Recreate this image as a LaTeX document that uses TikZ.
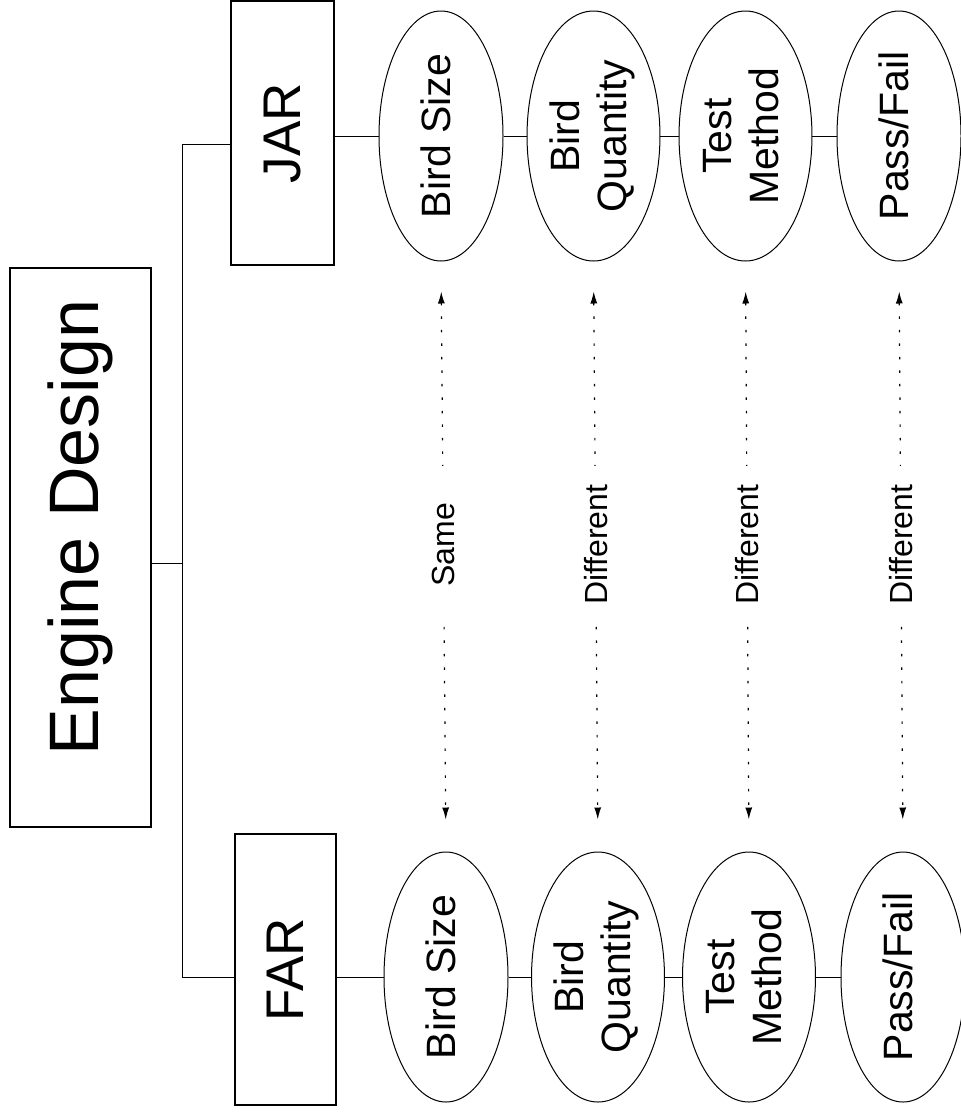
\documentclass[tikz,border=0pt]{standalone}
\usepackage{fontspec}
\setmainfont{Liberation Sans}
\usetikzlibrary{arrows.meta,shapes.geometric}
\newcommand{\rt}[1]{\rotatebox{90}{\begin{tabular}{@{}c@{}}#1\end{tabular}}}
\begin{document}
\begin{tikzpicture}[x=1pt,y=-1pt,
  box/.style={draw,line width=1.2pt,inner sep=0pt},
  oval/.style={draw,ellipse,line width=1pt,minimum width=124pt,minimum height=250pt,inner sep=0pt,font=\fontsize{41}{47}\selectfont},
  link/.style={line width=1pt},
  cmp/.style={line width=1.2pt,dash pattern=on 2.5pt off 11pt,{Latex[length=12pt,width=7pt]}-{Latex[length=12pt,width=7pt]},shorten <=30pt,shorten >=32pt},
  lbl/.style={fill=white,inner sep=0pt,minimum height=157pt,font=\fontsize{32}{37}\selectfont}
]
\useasboundingbox (0,0) rectangle (961,1112);
% title box
\node[box,minimum width=141pt,minimum height=559pt,font=\fontsize{70}{80}\selectfont] (ED) at (80.5,547.5) {\rotatebox{90}{\hspace*{40pt}Engine Design}};
% regulation boxes
\node[box,minimum width=103pt,minimum height=264pt,font=\fontsize{53}{60}\selectfont] (JAR) at (282.5,133) {\rotatebox{90}{JAR}};
\node[box,minimum width=101pt,minimum height=271pt,font=\fontsize{53}{60}\selectfont] (FAR) at (285.5,969.5) {\rotatebox{90}{FAR}};
% JAR ellipses
\node[oval] (J1) at (441,136) {\rt{Bird Size}};
\node[oval] (J2) at (593.5,136) {\rt{Bird\\Quantity}};
\node[oval] (J3) at (745.5,136) {\rt{Test\\Method}};
\node[oval] (J4) at (899,136) {\rt{Pass/Fail}};
% FAR ellipses
\node[oval] (F1) at (446,977) {\rt{Bird Size}};
\node[oval] (F2) at (598,977) {\rt{Bird\\Quantity}};
\node[oval] (F3) at (749,977) {\rt{Test\\Method}};
\node[oval] (F4) at (903,977) {\rt{Pass/Fail}};
% tree connectors
\coordinate (tj) at (182,144);
\coordinate (tm) at (182,563);
\coordinate (tf) at (182,977);
\draw[link] (tj -| JAR.west) -- (tj) -- (tf) -- (tf -| FAR.west);
\draw[link] (tm -| ED.east) -- (tm);
\draw[link] (JAR.east |- J1.west) -- (J1.west);
\draw[link] (J1.east) -- (J2.west);
\draw[link] (J2.east) -- (J3.west);
\draw[link] (J3.east) -- (J4.west);
\draw[link] (FAR.east |- F1.west) -- (F1.west);
\draw[link] (F1.east) -- (F2.west);
\draw[link] (F2.east) -- (F3.west);
\draw[link] (F3.east) -- (F4.west);
% comparison arrows
\draw[cmp] (J1.south) -- node[lbl,pos=0.48] (L1) {\rotatebox{90}{Same}} (F1.north);
\draw[cmp] (J2.south) -- node[lbl,pos=0.48] (L2) {\rotatebox{90}{Different}} (F2.north);
\draw[cmp] (J3.south) -- node[lbl,pos=0.48] (L3) {\rotatebox{90}{Different}} (F3.north);
\draw[cmp] (J4.south) -- node[lbl,pos=0.48] (L4) {\rotatebox{90}{Different}} (F4.north);
\end{tikzpicture}
\end{document}
